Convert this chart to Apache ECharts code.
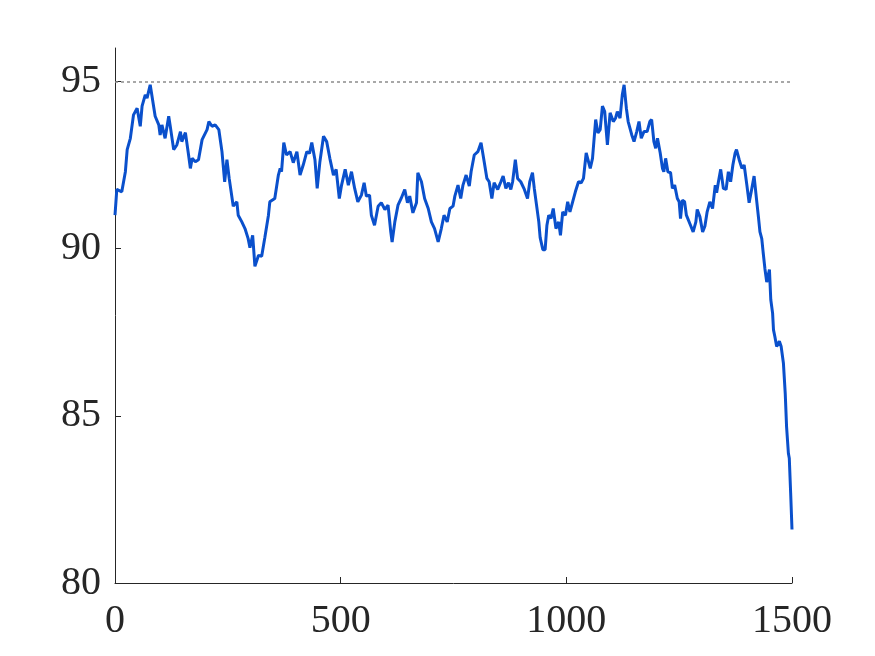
<!DOCTYPE html>
<html>
<head>
<meta charset="utf-8">
<script src="https://cdn.jsdelivr.net/npm/echarts@6/dist/echarts.min.js"></script>
<style>
  html, body { margin: 0; padding: 0; background: #fff; }
  #chart { width: 875px; height: 656px; }
</style>
</head>
<body>
<div id="chart"></div>
<script>
// sample positions
const xValues = [
  0, 4, 15, 23, 27, 34, 41, 49, 56, 60, 67, 71, 78, 82, 89, 97, 100, 104, 111, 119,
  122, 130, 137, 145, 148, 156, 163, 167, 171, 178, 185, 193, 204, 208, 215, 222, 230, 237, 243, 248,
  253, 262, 270, 273, 281, 288, 295, 299, 305, 310, 318, 325, 332, 340, 343, 354, 362, 366, 369, 374,
  380, 388, 395, 403, 410, 417, 425, 431, 436, 443, 448, 454, 462, 469, 476, 484, 490, 497, 502, 510,
  517, 524, 531, 538, 546, 552, 557, 564, 568, 575, 583, 590, 598, 605, 611, 614, 620, 627, 634, 642,
  648, 653, 660, 668, 671, 679, 686, 694, 701, 708, 716, 723, 729, 736, 742, 749, 753, 760, 766, 771,
  778, 785, 789, 796, 804, 811, 818, 824, 829, 835, 840, 848, 855, 860, 866, 872, 877, 881, 887, 892,
  899, 907, 914, 919, 925, 929, 934, 939, 942, 948, 953, 957, 961, 966, 971, 977, 983, 987, 992, 998,
  1003, 1008, 1014, 1020, 1027, 1033, 1038, 1044, 1053, 1058, 1065, 1070, 1075, 1080, 1085, 1091, 1097, 1104, 1109, 1113,
  1119, 1124, 1128, 1133, 1137, 1145, 1150, 1156, 1161, 1166, 1172, 1179, 1185, 1189, 1194, 1198, 1202, 1208, 1213, 1216,
  1220, 1225, 1231, 1235, 1240, 1246, 1250, 1253, 1257, 1262, 1266, 1270, 1276, 1281, 1287, 1290, 1296, 1302, 1307, 1312,
  1318, 1324, 1330, 1333, 1337, 1342, 1348, 1354, 1359, 1364, 1369, 1374, 1377, 1383, 1389, 1394, 1400, 1405, 1411, 1416,
  1422, 1426, 1429, 1433, 1436, 1440, 1444, 1450, 1453, 1457, 1459, 1462, 1466, 1472, 1476, 1481, 1485, 1488, 1492, 1494,
  1497, 1500
];
const yValues = [
  91.0, 91.77, 91.7, 92.3, 92.96, 93.3, 94.0, 94.2, 93.66, 94.26, 94.6, 94.5, 94.9, 94.9, 93.96, 93.7, 93.4, 93.7, 93.3, 93.96,
  93.7, 92.96, 93.1, 93.5, 93.2, 93.47, 92.8, 92.4, 92.7, 92.6, 92.66, 93.26, 93.56, 93.8, 93.66, 93.7, 93.56, 92.9, 92.0, 92.66,
  92.1, 91.27, 91.4, 91.0, 90.8, 90.6, 90.3, 90.03, 90.4, 89.47, 89.8, 89.77, 90.33, 91.0, 91.4, 91.5, 92.2, 92.4, 92.3, 93.17,
  92.8, 92.9, 92.57, 92.9, 92.2, 92.5, 92.9, 92.85, 93.17, 92.66, 91.8, 92.6, 93.36, 93.2, 92.7, 92.2, 92.37, 91.5, 91.9, 92.37,
  91.9, 92.3, 91.8, 91.4, 91.6, 91.97, 91.57, 91.6, 91.0, 90.7, 91.27, 91.37, 91.17, 91.3, 90.5, 90.2, 90.8, 91.3, 91.5, 91.77,
  91.37, 91.57, 91.07, 91.37, 92.27, 92.0, 91.5, 91.2, 90.8, 90.6, 90.2, 90.6, 91.0, 90.8, 91.2, 91.27, 91.57, 91.9, 91.5, 91.9,
  92.2, 91.87, 92.3, 92.8, 92.9, 93.17, 92.6, 92.1, 92.0, 91.5, 91.97, 91.77, 92.0, 92.17, 91.8, 91.97, 91.77, 92.0, 92.66, 92.1,
  92.0, 91.77, 91.5, 92.0, 92.27, 91.8, 91.3, 90.8, 90.33, 89.97, 89.97, 90.7, 91.0, 90.9, 91.2, 90.6, 90.8, 90.4, 91.1, 91.0,
  91.4, 91.1, 91.4, 91.7, 92.0, 91.97, 92.1, 92.86, 92.4, 92.7, 93.86, 93.46, 93.56, 94.26, 94.1, 93.1, 94.06, 93.8, 93.9, 94.1,
  93.9, 94.6, 94.9, 94.2, 93.8, 93.4, 93.2, 93.5, 93.8, 93.3, 93.5, 93.5, 93.8, 93.86, 93.2, 93.0, 93.3, 92.86, 92.4, 92.3,
  92.7, 92.3, 92.27, 91.8, 91.9, 91.5, 91.4, 90.9, 91.45, 91.4, 91.0, 90.95, 90.67, 90.5, 90.8, 91.17, 90.95, 90.5, 90.67, 91.1,
  91.4, 91.2, 91.9, 91.67, 92.0, 92.37, 91.8, 91.77, 92.3, 92.0, 92.5, 92.86, 92.96, 92.66, 92.4, 92.5, 91.9, 91.37, 91.8, 92.17,
  91.4, 90.9, 90.5, 90.3, 89.9, 89.4, 89.0, 89.37, 88.47, 88.07, 87.57, 87.37, 87.07, 87.23, 87.07, 86.57, 85.67, 84.67, 83.88, 83.73,
  82.7, 81.6
];
const refLevel = 95;
const yTicks = [80, 85, 90, 95];

const seriesData = xValues.map((x, i) => [x, yValues[i]]);

const font = { fontFamily: "Liberation Serif, serif", fontSize: 40, color: "#262626" };

const option = {
  animation: false,
  grid: { left: 115, right: 83, top: 48, bottom: 73 },
  xAxis: {
    type: "value",
    min: 0,
    max: 1500,
    interval: 500,
    axisLine: { lineStyle: { color: "#262626", width: 1 } },
    axisTick: { inside: true, length: 6, lineStyle: { color: "#262626" } },
    axisLabel: Object.assign({ margin: 18, formatter: (v) => String(v) }, font),
    splitLine: { show: false },
  },
  yAxis: {
    type: "value",
    min: 80,
    max: 96,
    axisLine: { show: true, lineStyle: { color: "#262626", width: 1 } },
    axisTick: { show: true, inside: true, length: 6, customValues: yTicks, lineStyle: { color: "#262626" } },
    axisLabel: Object.assign({ margin: 14, customValues: yTicks, formatter: (v) => String(v) }, font),
    splitLine: { show: false },
  },
  series: [
    {
      type: "line",
      data: seriesData,
      showSymbol: false,
      lineStyle: { color: "#0a50cc", width: 3 },
      markLine: {
        silent: true,
        symbol: "none",
        label: { show: false },
        lineStyle: { color: "#8c8c8c", type: [3, 3], width: 1.5 },
        data: [{ yAxis: refLevel }],
      },
    },
  ],
};

const myChart = echarts.init(document.getElementById("chart"));
myChart.setOption(option);
</script>
</body>
</html>
